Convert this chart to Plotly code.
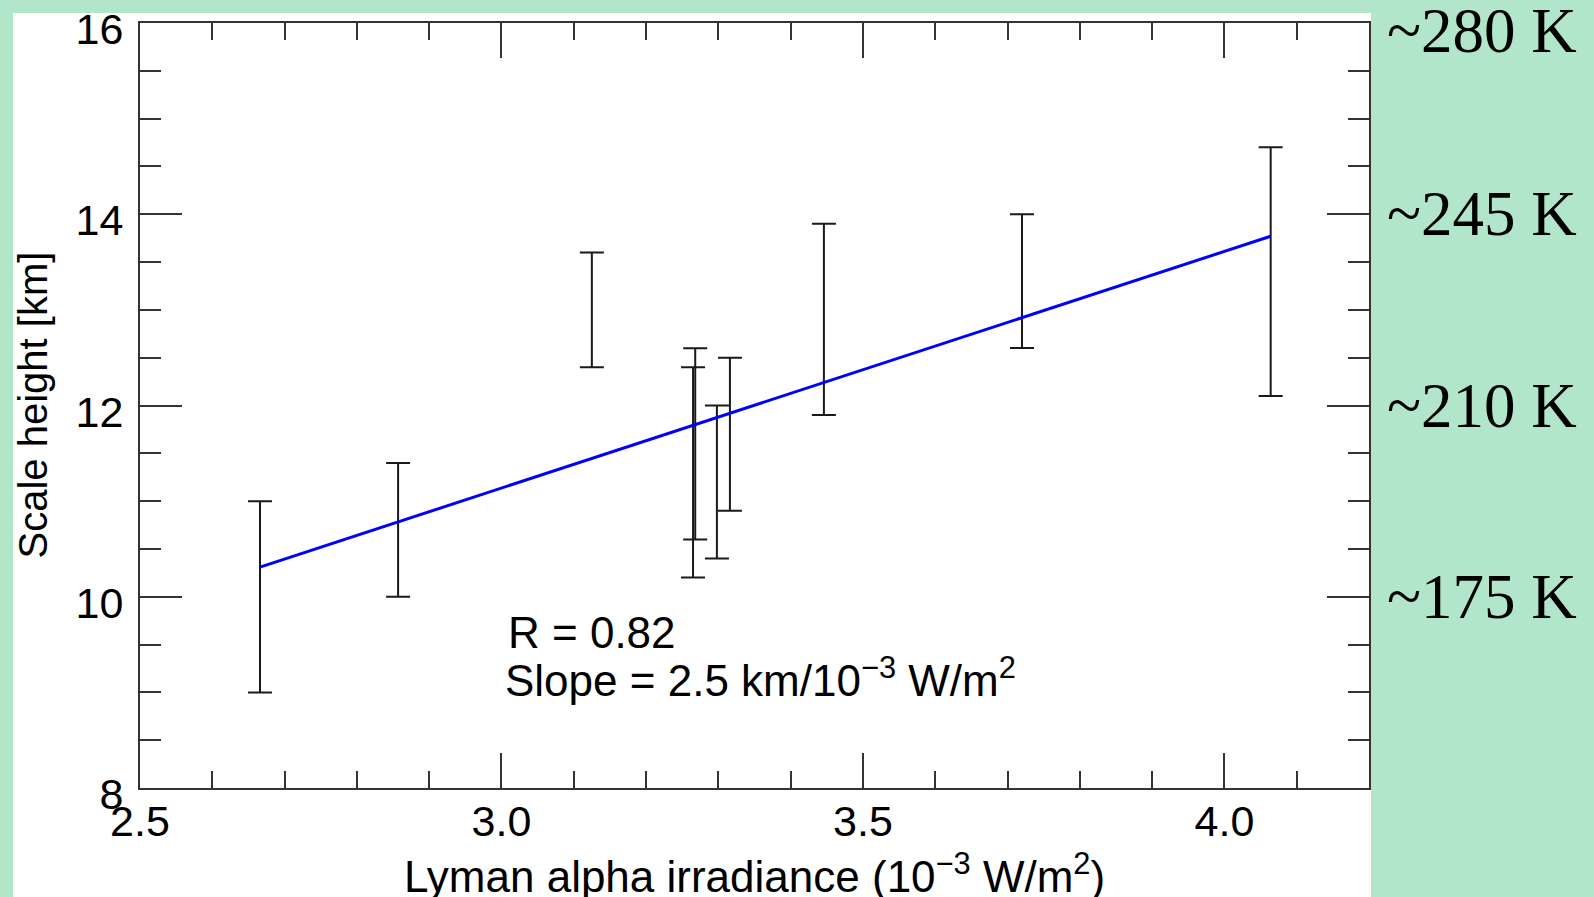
import plotly.graph_objects as go

# ---- data ----
lyman_x = [2.666, 2.857, 3.125, 3.268, 3.265, 3.298, 3.316, 3.446, 3.720, 4.064]
scale_h = [10.0, 10.7, 13.0, 11.6, 11.3, 11.2, 11.7, 12.9, 13.3, 13.4]
scale_err = [1.0, 0.7, 0.6, 1.0, 1.1, 0.8, 0.8, 1.0, 0.7, 1.3]

fit_x = [2.666, 4.064]
fit_y = [10.31, 13.77]

x_tickvals = [2.5, 3.0, 3.5, 4.0]
x_ticktext = ["2.5", "3.0", "3.5", "4.0"]
y_tickvals = [8, 10, 12, 14, 16]
y_ticktext = ["8", "10", "12", "14", "16"]

temp_levels = [16, 14, 12, 10]
temp_labels = ["~280 K", "~245 K", "~210 K", "~175 K"]

GREEN = "#B2E6CA"
AX = "#333333"
SANS = "Liberation Sans, Arial, Helvetica, sans-serif"
SERIF = "Liberation Serif, Times New Roman, serif"

W, H = 1594, 897
ml, mr, mt, mb = 140, 225, 23, 109
pw, ph = W - ml - mr, H - mt - mb

fig = go.Figure()

fig.add_trace(go.Scatter(
    x=lyman_x, y=scale_h, mode="markers",
    marker=dict(size=1, color="rgba(0,0,0,0)"),
    error_y=dict(type="data", array=scale_err, visible=True,
                 color="#1a1a1a", thickness=2, width=12),
    showlegend=False, hoverinfo="x+y",
))

fig.add_trace(go.Scatter(
    x=fit_x, y=fit_y, mode="lines",
    line=dict(color="#0000FF", width=3),
    showlegend=False,
))

axis_common = dict(
    showline=True, linecolor=AX, linewidth=2, mirror="allticks",
    ticks="inside", tickcolor=AX, tickwidth=1.5,
    showgrid=False, zeroline=False, automargin=False,
    ticklabeloverflow="allow",
    tickfont=dict(family=SANS, size=43, color="black"),
)

fig.update_xaxes(
    range=[2.5, 4.2], tickmode="array", tickvals=x_tickvals, ticktext=x_ticktext,
    ticklen=35,
    minor=dict(dtick=0.1, tick0=2.5, ticklen=17, ticks="inside", tickcolor=AX, tickwidth=1.5),
    ticklabelstandoff=-6,
    **axis_common,
)
fig.update_yaxes(
    range=[8, 16], tickmode="array", tickvals=y_tickvals, ticktext=y_ticktext,
    ticklen=42,
    minor=dict(dtick=0.5, tick0=8, ticklen=21, ticks="inside", tickcolor=AX, tickwidth=1.5),
    ticklabelstandoff=6, ticklabelshift=6,
    **axis_common,
)

annotations = []
# axis titles
annotations.append(dict(
    x=0.5, xref="paper", y=(H - mb - 873) / ph, yref="paper",
    text="Lyman alpha irradiance (10<sup>\u22123</sup> W/m<sup>2</sup>)",
    showarrow=False, xanchor="center", yanchor="middle",
    font=dict(family=SANS, size=44, color="black"),
))
annotations.append(dict(
    x=(32 - ml) / pw, xref="paper", y=0.5, yref="paper", text="Scale height [km]",
    textangle=-90, showarrow=False, xanchor="center", yanchor="middle",
    font=dict(family=SANS, size=40, color="black"),
))
top_level = max(temp_levels)
for lvl, lab in zip(temp_levels, temp_labels):
    annotations.append(dict(
        x=1.013, xref="paper", y=lvl, yref="y", text=lab, showarrow=False,
        xanchor="left", yanchor="middle", yshift=-8 if lvl == top_level else 0,
        font=dict(family=SERIF, size=63, color="black"),
    ))
annotations.append(dict(
    x=3.006, xref="x", y=9.63, yref="y", text="R = 0.82", showarrow=False,
    xanchor="left", yanchor="middle", font=dict(family=SANS, size=44, color="black"),
))
annotations.append(dict(
    x=3.002, xref="x", y=9.16, yref="y",
    text="Slope = 2.5 km/10<sup>\u22123</sup> W/m<sup>2</sup>", showarrow=False,
    xanchor="left", yanchor="middle", font=dict(family=SANS, size=44, color="black"),
))

fig.update_layout(
    width=W, height=H,
    margin=dict(l=ml, r=mr, t=mt, b=mb, pad=0, autoexpand=False),
    paper_bgcolor=GREEN, plot_bgcolor="white",
    annotations=annotations,
    shapes=[dict(
        type="rect", xref="paper", yref="paper", layer="below",
        x0=(13 - ml) / pw, x1=(1371 - ml) / pw,
        y0=(H - mb - H) / ph - 0.01, y1=(H - mb - 13) / ph,
        fillcolor="white", line=dict(width=0),
    )],
)

fig.write_html(
    "out.html",
    config={"displayModeBar": False},
    post_script="document.body.style.margin='0px';document.body.style.overflow='hidden';",
)
